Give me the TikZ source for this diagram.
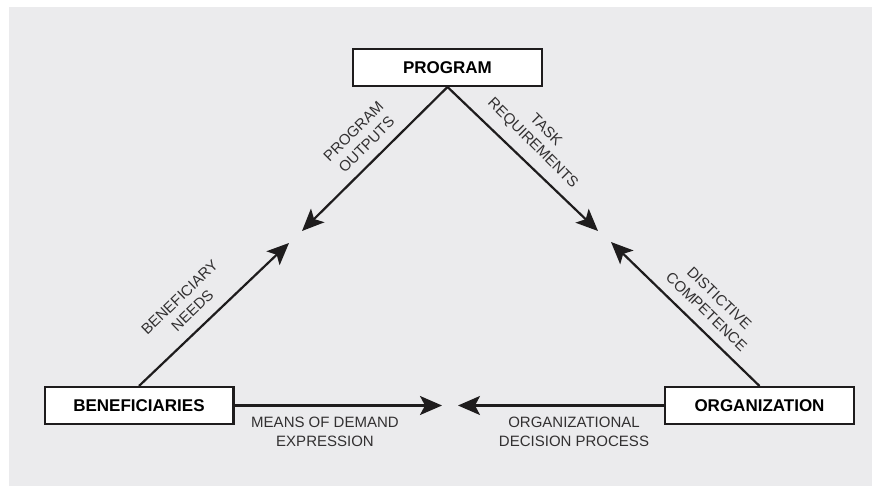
\documentclass[tikz,border=0pt]{standalone}
\usepackage{fontspec}
\setmainfont{Liberation Sans}
\usetikzlibrary{arrows.meta}
\definecolor{bggray}{RGB}{235,235,237}
\definecolor{inkblack}{RGB}{30,28,29}
\definecolor{labelgray}{RGB}{50,48,49}
\begin{document}
\begin{tikzpicture}[x=1pt,y=1pt,
  main node/.style={draw=inkblack,fill=white,line width=2.4pt,minimum width=188.6pt,minimum height=36.6pt,inner sep=0pt,font=\fontsize{17}{20}\selectfont\bfseries},
  flow/.style={draw=inkblack,line width=2.2pt,-{Stealth[length=22pt,width=19pt,inset=5pt]}},
  lbl/.style={align=center,inner sep=0pt,text=labelgray,font=\fontsize{15}{18.5}\selectfont}]
  \useasboundingbox (0,0) rectangle (872,487);
  \fill[bggray] (9,1) rectangle (872,480);

  \node[main node] (program) at (447.5,419.5) {PROGRAM};
  \node[main node] (benef) at (139,81.5) {BENEFICIARIES};
  \node[main node] (org) at (759.5,81.5) {ORGANIZATION};

  % free ends of the arrows
  \coordinate (po) at (302,256);
  \coordinate (tr) at (598,256);
  \coordinate (bn) at (289,244);
  \coordinate (dc) at (611,245);
  \coordinate (md) at (442,81.5);
  \coordinate (od) at (458,81.5);

  \draw[flow] (program.south) -- (po);
  \draw[flow] (program.south) -- (tr);
  \draw[flow] (benef.north) -- (bn);
  \draw[flow] (org.north) -- (dc);
  \draw[flow] (benef.east) -- (md);
  \draw[flow] (org.west) -- (od);

  \node[lbl,rotate=45] (outputs) at (360,349) {PROGRAM\\OUTPUTS};
  \node[lbl,rotate=-45] (tasks) at (539,350) {TASK\\REQUIREMENTS};
  \node[lbl,rotate=44] (needs) at (186,183) {BENEFICIARY\\NEEDS};
  \node[lbl,rotate=-44] (compet) at (713,182) {DISTICTIVE\\COMPETENCE};
  \node[lbl] (demand) at (325,55) {MEANS OF DEMAND\\EXPRESSION};
  \node[lbl] (decision) at (574,55) {ORGANIZATIONAL\\DECISION PROCESS};
\end{tikzpicture}
\end{document}
